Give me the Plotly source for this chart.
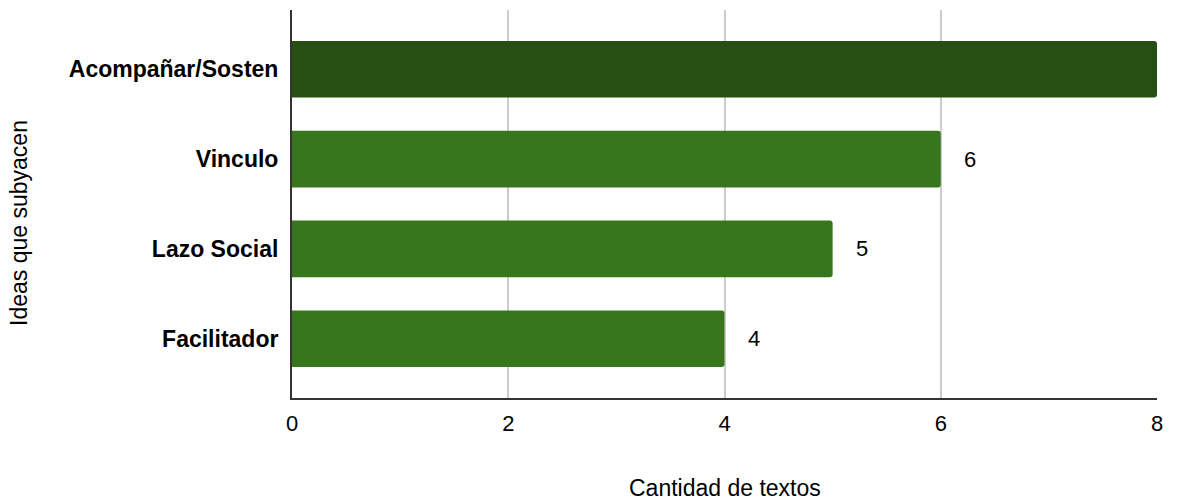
import plotly.graph_objects as go

# Ideas detected in the texts and how many texts mention each one
categories = ["Acompañar/Sosten", "Vinculo", "Lazo Social", "Facilitador"]
counts = [8, 6, 5, 4]
bar_colors = ["#274e13", "#38761d", "#38761d", "#38761d"]
x_ticks = [0, 2, 4, 6, 8]

FONT = "Liberation Sans, Arial, sans-serif"

fig = go.Figure()
fig.add_trace(go.Bar(
    x=counts,
    y=categories,
    orientation="h",
    marker=dict(color=bar_colors, line=dict(width=0)),
    width=0.63,
    hoverinfo="x+y",
))

# value labels to the right of each bar (the longest one runs past the axis edge)
for cat, val in zip(categories, counts):
    if val >= max(x_ticks):
        continue
    fig.add_annotation(
        x=val, y=cat, text=str(val), showarrow=False,
        xanchor="center", xshift=29,
        font=dict(family=FONT, size=22, color="#000000"),
    )

fig.add_annotation(
    text="Cantidad de textos", xref="paper", yref="paper",
    x=0.5, y=-0.232, yanchor="middle", showarrow=False,
    font=dict(family=FONT, size=23, color="#000000"),
)
fig.add_annotation(
    text="Ideas que subyacen", xref="paper", yref="paper",
    x=-0.315, xanchor="center", y=0.45, yanchor="middle", textangle=-90,
    showarrow=False,
    font=dict(family=FONT, size=23, color="#000000"),
)

fig.update_layout(
    width=1180, height=500,
    margin=dict(l=292, r=23, t=10, b=102),
    paper_bgcolor="#ffffff", plot_bgcolor="#ffffff",
    barcornerradius=3,
    showlegend=False,
    font=dict(family=FONT, size=23, color="#000000"),
    xaxis=dict(
        range=[0, 8], tickvals=x_ticks, ticktext=[str(t) for t in x_ticks],
        showgrid=True, gridcolor="#cccccc", gridwidth=2,
        zeroline=False, showline=True, linecolor="#333333", linewidth=2,
        ticks="", ticklabelstandoff=5,
        tickfont=dict(family=FONT, size=22, color="#000000"),
    ),
    yaxis=dict(
        categoryorder="array", categoryarray=categories,
        range=[3.66, -0.66],
        showgrid=False, zeroline=False,
        showline=True, linecolor="#333333", linewidth=2,
        ticks="", ticklabelstandoff=7,
        tickfont=dict(family=FONT, size=23, color="#000000", weight="bold"),
    ),
)

fig.write_html("out.html")
